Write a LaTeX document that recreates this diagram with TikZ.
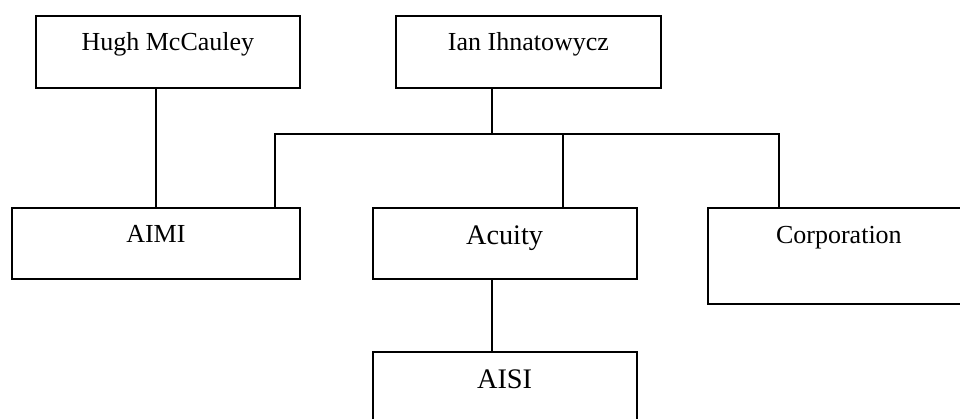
\documentclass[tikz,border=0pt]{standalone}
\usepackage{fontspec}
\setmainfont{Liberation Serif}
\tikzset{
  box/.style={draw,line width=1.8pt,inner sep=0pt,anchor=north west,
    font=\fontsize{26}{30}\selectfont},
  bigbox/.style={box,font=\fontsize{28.3}{32}\selectfont},
  wire/.style={draw,line width=1.8pt}
}
\begin{document}
\begin{tikzpicture}[x=1pt,y=-1pt]
  \useasboundingbox (0,0) rectangle (960,418);
  \clip (0,0) rectangle (960,418);
  \begin{scope}
    \node[box,minimum width=264pt,text height=35.3pt,text depth=36.7pt] (hugh) at (35,14.7) {Hugh McCauley};
    \node[box,minimum width=265pt,text height=35.3pt,text depth=36.7pt] (ian) at (395,14.7) {Ian Ihnatowycz};

    \node[box,minimum width=288pt,text height=35.3pt,text depth=36.3pt] (aimi) at (11,206.7) {AIMI};
    \node[bigbox,minimum width=264pt,text height=37.3pt,text depth=34.3pt] (acuity) at (371.7,206.7) {Acuity};
    \node[box,minimum width=262pt,text height=36pt,text depth=60pt] (corp) at (707,206.7) {Corporation};

    \node[bigbox,minimum width=264pt,text height=37.3pt,text depth=34pt] (aisi) at (371.7,350.7) {AISI};

    \coordinate (drop) at (491.7,134);
    \coordinate (busL) at (275,134);
    \coordinate (busM) at (563,134);
    \coordinate (busR) at (779.3,134);

    \path[wire] (aimi.north |- hugh.south) -- (aimi.north);
    \path[wire] (drop |- ian.south) -- (drop);
    \path[wire] (busL |- aimi.north) -- (busL) -- (busR) -- (busR |- corp.north);
    \path[wire] (busM) -- (busM |- acuity.north);
    \path[wire] (drop |- acuity.south) -- (drop |- aisi.north);
  \end{scope}
\end{tikzpicture}
\end{document}
